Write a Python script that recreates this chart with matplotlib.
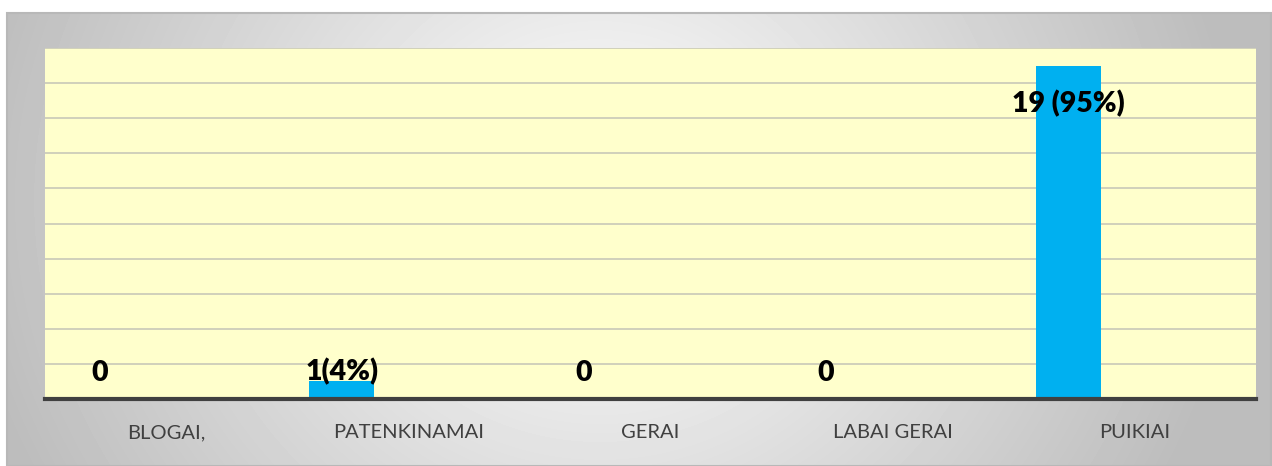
import numpy as np
import matplotlib.pyplot as plt
from matplotlib.patches import Rectangle

categories = ["BLOGAI,", "PATENKINAMAI", "GERAI", "LABAI GERAI", "PUIKIAI"]
values = [0, 1, 0, 0, 19]
labels = ["0", "1(4%)", "0", "0", "19 (95%)"]

W, H = 1272, 466
fig = plt.figure(figsize=(W / 100, H / 100), dpi=100)
fig.patch.set_facecolor("white")

# grey gradient frame behind the chart
bg = fig.add_axes([0, 0, 1, 1])
bg.set_xlim(0, W)
bg.set_ylim(H, 0)
bg.axis("off")
xx, yy = np.meshgrid(np.linspace(7, W, 400), np.linspace(13, H, 150))
d = np.sqrt(((xx - 600) / 640) ** 2 + ((yy - 200) / 600) ** 2)
shade = 1 - np.clip(d, 0, 1) * 0.26
bg.imshow(shade, cmap="gray", vmin=0, vmax=1, extent=(7, W, H, 13),
          aspect="auto", interpolation="bilinear")
bg.add_patch(Rectangle((7, 13), W - 8, H - 13, fill=False,
                       edgecolor="#B8B8B8", linewidth=1.5))

left, right, top, bottom = 45, 1256, 48, 399
ax = fig.add_axes([left / W, (H - bottom) / H, (right - left) / W, (bottom - top) / H])
ax.set_facecolor("#FFFFCC")

x = np.arange(len(categories))
offset = -0.275
bw = 0.268
ax.bar(x + offset, values, width=bw, color="#00B0F0", zorder=3)

ax.set_xlim(-0.5, len(categories) - 0.5)
ax.set_ylim(0, 20)
ax.set_yticks(np.arange(0, 21, 2))
ax.yaxis.grid(True, color="#C8C8B8", linewidth=1.2, zorder=0)
ax.tick_params(axis="y", left=False, labelleft=False)
ax.set_xticks(x)
ax.set_xticklabels(categories, fontsize=14.5, color="#404040", family="Lato")
ax.tick_params(axis="x", length=0, pad=18)
for s in ["top", "right", "left"]:
    ax.spines[s].set_visible(False)
ax.spines["bottom"].set_color("#404040")
ax.spines["bottom"].set_linewidth(3)
ax.spines["bottom"].set_zorder(4)

for xi, v, lab in zip(x, values, labels):
    if v == 0:
        dy = 18
    elif v >= 10:
        dy = -47
    else:
        dy = 1
    ax.annotate(lab, (xi + offset, v), xytext=(0, dy), textcoords="offset pixels",
                ha="center", va="baseline", fontsize=20.5, fontweight="heavy",
                family="Lato", color="black", zorder=5)

fig.savefig("out.png", dpi=100)
